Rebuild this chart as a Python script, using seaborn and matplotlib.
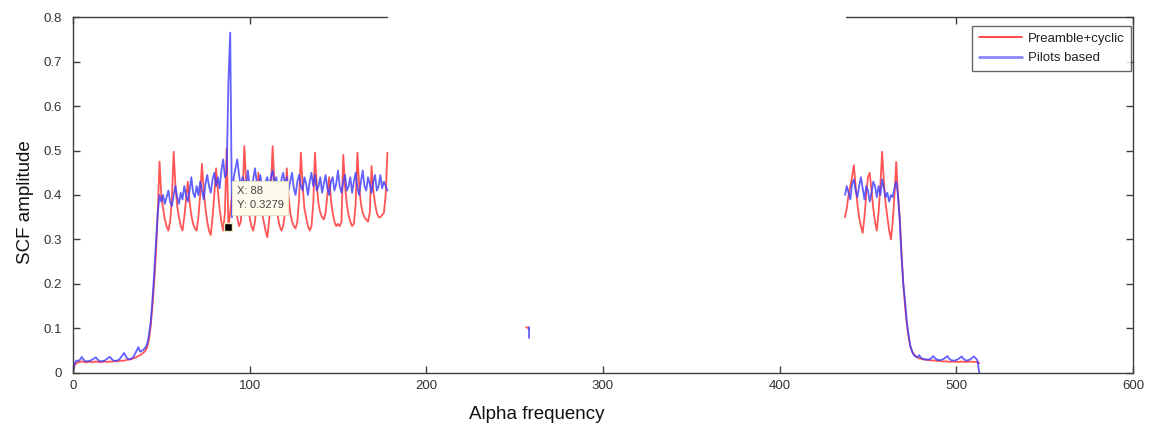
import numpy as np
import pandas as pd
import matplotlib
matplotlib.use("Agg")
import matplotlib.pyplot as plt
import matplotlib.transforms as mtransforms
from matplotlib.patches import Rectangle
from matplotlib.lines import Line2D
import seaborn as sns

# ---------------- data ----------------
series_names = ["Preamble+cyclic", "Pilots based"]
x_ticks = [0, 100, 200, 300, 400, 500, 600]
y_ticks = [0, 0.1, 0.2, 0.3, 0.4, 0.5, 0.6, 0.7, 0.8]

x_left = list(range(0, 179))
red_left = [
    0.000, 0.018, 0.022, 0.024, 0.025, 0.026, 0.025, 0.024, 0.024, 0.025,
    0.025, 0.024, 0.025, 0.026, 0.025, 0.024, 0.025, 0.025, 0.026, 0.025,
    0.025, 0.026, 0.025, 0.026, 0.027, 0.026, 0.027, 0.028, 0.027, 0.028,
    0.029, 0.030, 0.030, 0.031, 0.033, 0.034, 0.036, 0.038, 0.040, 0.043,
    0.046, 0.050, 0.058, 0.075, 0.105, 0.150, 0.205, 0.270, 0.360, 0.475,
    0.400, 0.370, 0.345, 0.330, 0.320, 0.340, 0.390, 0.497, 0.420, 0.375,
    0.350, 0.330, 0.320, 0.350, 0.390, 0.430, 0.385, 0.355, 0.335, 0.325,
    0.320, 0.350, 0.400, 0.470, 0.410, 0.370, 0.340, 0.320, 0.310, 0.350,
    0.400, 0.460, 0.410, 0.370, 0.340, 0.320, 0.360, 0.505, 0.328, 0.360,
    0.400, 0.420, 0.380, 0.350, 0.330, 0.340, 0.400, 0.510, 0.430, 0.380,
    0.350, 0.330, 0.320, 0.340, 0.390, 0.450, 0.400, 0.360, 0.340, 0.320,
    0.305, 0.340, 0.400, 0.510, 0.430, 0.380, 0.350, 0.330, 0.320, 0.330,
    0.360, 0.460, 0.400, 0.360, 0.340, 0.330, 0.325, 0.340, 0.390, 0.495,
    0.420, 0.370, 0.350, 0.330, 0.320, 0.330, 0.380, 0.495, 0.420, 0.380,
    0.360, 0.350, 0.345, 0.360, 0.400, 0.440, 0.390, 0.360, 0.340, 0.330,
    0.335, 0.330, 0.340, 0.490, 0.420, 0.380, 0.355, 0.340, 0.330, 0.335,
    0.380, 0.495, 0.420, 0.380, 0.360, 0.350, 0.345, 0.340, 0.360, 0.465,
    0.410, 0.380, 0.360, 0.350, 0.350, 0.355, 0.360, 0.400, 0.495,
]
blue_left = [
    0.000, 0.022, 0.028, 0.027, 0.030, 0.036, 0.030, 0.027, 0.026, 0.027,
    0.028, 0.030, 0.033, 0.035, 0.030, 0.027, 0.026, 0.027, 0.028, 0.031,
    0.034, 0.036, 0.031, 0.028, 0.027, 0.028, 0.030, 0.034, 0.040, 0.045,
    0.036, 0.032, 0.031, 0.032, 0.035, 0.042, 0.050, 0.058, 0.048, 0.050,
    0.053, 0.057, 0.065, 0.085, 0.115, 0.165, 0.225, 0.295, 0.360, 0.400,
    0.385, 0.400, 0.380, 0.395, 0.410, 0.385, 0.375, 0.400, 0.420, 0.395,
    0.380, 0.405, 0.390, 0.420, 0.400, 0.385, 0.410, 0.440, 0.405, 0.395,
    0.420, 0.400, 0.430, 0.410, 0.390, 0.425, 0.445, 0.420, 0.405, 0.435,
    0.450, 0.420, 0.440, 0.415, 0.455, 0.480, 0.440, 0.450, 0.655, 0.765,
    0.350, 0.440, 0.460, 0.480, 0.445, 0.420, 0.440, 0.430, 0.415, 0.455,
    0.420, 0.400, 0.435, 0.460, 0.430, 0.410, 0.445, 0.420, 0.400, 0.430,
    0.440, 0.415, 0.440, 0.455, 0.425, 0.440, 0.420, 0.405, 0.435, 0.450,
    0.420, 0.440, 0.410, 0.430, 0.450, 0.415, 0.400, 0.430, 0.445, 0.420,
    0.410, 0.440, 0.425, 0.400, 0.430, 0.450, 0.420, 0.445, 0.410, 0.420,
    0.440, 0.405, 0.425, 0.445, 0.415, 0.400, 0.430, 0.440, 0.410, 0.425,
    0.455, 0.420, 0.405, 0.430, 0.445, 0.410, 0.420, 0.440, 0.405, 0.430,
    0.450, 0.415, 0.400, 0.430, 0.455, 0.420, 0.410, 0.440, 0.425, 0.405,
    0.430, 0.445, 0.410, 0.420, 0.445, 0.415, 0.430, 0.420, 0.410,
]

x_right = list(range(437, 514))
red_right = [
    0.350, 0.370, 0.400, 0.420, 0.440, 0.467, 0.420, 0.380, 0.350, 0.330,
    0.315, 0.350, 0.400, 0.440, 0.450, 0.410, 0.370, 0.340, 0.320, 0.360,
    0.420, 0.497, 0.430, 0.380, 0.350, 0.320, 0.300, 0.340, 0.400, 0.474,
    0.400, 0.350, 0.270, 0.200, 0.150, 0.110, 0.080, 0.060, 0.048, 0.042,
    0.038, 0.035, 0.033, 0.032,
    0.031, 0.030, 0.030, 0.029, 0.029, 0.028, 0.028, 0.028, 0.027, 0.027,
    0.027, 0.026, 0.026, 0.026, 0.026, 0.025, 0.025, 0.026, 0.025, 0.025,
    0.025, 0.025, 0.026, 0.025, 0.025, 0.025, 0.025, 0.026, 0.025, 0.025,
    0.025, 0.024, 0.022,
]
blue_right = [
    0.400, 0.420, 0.405, 0.390, 0.425, 0.435, 0.410, 0.395, 0.420, 0.440,
    0.415, 0.390, 0.420, 0.410, 0.385, 0.405, 0.430, 0.420, 0.395, 0.420,
    0.400, 0.435, 0.415, 0.395, 0.405, 0.385, 0.400, 0.395, 0.415, 0.430,
    0.400, 0.340, 0.260, 0.200, 0.160, 0.115, 0.085, 0.060, 0.048, 0.040,
    0.037, 0.035, 0.040, 0.034,
    0.032, 0.031, 0.030, 0.030, 0.031, 0.034, 0.038, 0.033, 0.030, 0.029,
    0.029, 0.030, 0.032, 0.035, 0.038, 0.032, 0.029, 0.028, 0.028, 0.029,
    0.031, 0.034, 0.037, 0.032, 0.029, 0.028, 0.029, 0.031, 0.034, 0.037,
    0.033, 0.028, 0.000,
]

# small visible fragment in the middle of the blank area
x_frag_red = [256.5, 258.0]
red_frag = [0.103, 0.100]
x_frag_blue = [258.0, 258.0]
blue_frag = [0.103, 0.078]

# data-tip
tip_x, tip_y = 88, 0.3279

# ---------------- styling ----------------
sns.set_theme(style="white")
plt.rcParams["font.family"] = ["Liberation Sans", "DejaVu Sans"]

RED = "#ff2a2a"
BLUE = "#3a3aff"
EDGE = "#404040"

fig = plt.figure(figsize=(11.6, 4.34), dpi=100)
ax = fig.add_axes([0.0629, 0.1406, 0.9138, 0.8202])

segments = [
    (x_left, red_left, RED), (x_left, blue_left, BLUE),
    (x_frag_red, red_frag, RED), (x_frag_blue, blue_frag, BLUE),
    (x_right, red_right, RED), (x_right, blue_right, BLUE),
]
for xs, ys, col in segments:
    df = pd.DataFrame({"x": xs, "y": ys})
    sns.lineplot(data=df, x="x", y="y", ax=ax, color=col, linewidth=1.3,
                 alpha=0.8, sort=False, estimator=None, legend=False)

ax.set_xlim(0, 600)
ax.set_ylim(0, 0.8)
ax.set_xticks(x_ticks)
ax.set_yticks(y_ticks)
ax.set_xticklabels([str(v) for v in x_ticks])
ax.set_yticklabels(["0"] + [f"{v:.1f}" for v in y_ticks[1:]])

for s in ax.spines.values():
    s.set_visible(True)
    s.set_color(EDGE)
    s.set_linewidth(1.0)

ax.tick_params(axis="both", which="both", direction="in", length=5, width=1,
               color=EDGE, labelcolor="#333333", labelsize=9.5,
               top=True, right=True, bottom=True, left=True)
ax.tick_params(axis="x", pad=5)
ax.tick_params(axis="y", pad=8)

ax.set_xlabel("Alpha frequency", fontsize=13.5, color="#111111")
ax.set_ylabel("SCF amplitude", fontsize=13.5, color="#111111")
ax.xaxis.set_label_coords(0.438, -0.092)
ax.yaxis.set_label_coords(-0.037, 0.48)

# blank region hiding the top border in the middle
trans = mtransforms.blended_transform_factory(ax.transData, ax.transAxes)
ax.add_patch(Rectangle((178.6, 0.975), 437.8 - 178.6, 0.05, transform=trans,
                       facecolor="white", edgecolor="none", clip_on=False, zorder=20))

# data tip
ax.plot([tip_x], [tip_y], marker="s", markersize=6, markerfacecolor="black",
        markeredgecolor="#f0ecc0", markeredgewidth=1.0, zorder=12)
ax.annotate(f"X: {tip_x}\nY: {tip_y}", xy=(tip_x, tip_y), xytext=(6, 12),
            textcoords="offset points", ha="left", va="bottom", fontsize=8,
            color="#444444", linespacing=1.6, zorder=13,
            bbox=dict(boxstyle="square,pad=0.4", fc="#fdfbec", ec="#e6e2c6", lw=0.8))

handles = [Line2D([], [], color=RED, lw=1.2), Line2D([], [], color=BLUE, lw=2.0, alpha=0.6)]
leg = ax.legend(handles, series_names, loc="upper right", bbox_to_anchor=(0.998, 0.975),
                borderaxespad=0, fontsize=9.5, frameon=True, fancybox=False,
                handlelength=3.3, handletextpad=0.4, borderpad=0.5, labelspacing=0.55)
leg.get_frame().set_edgecolor(EDGE)
leg.get_frame().set_linewidth(1.0)
for t in leg.get_texts():
    t.set_color("#222222")

fig.savefig("out.png", dpi=100, facecolor="white")
